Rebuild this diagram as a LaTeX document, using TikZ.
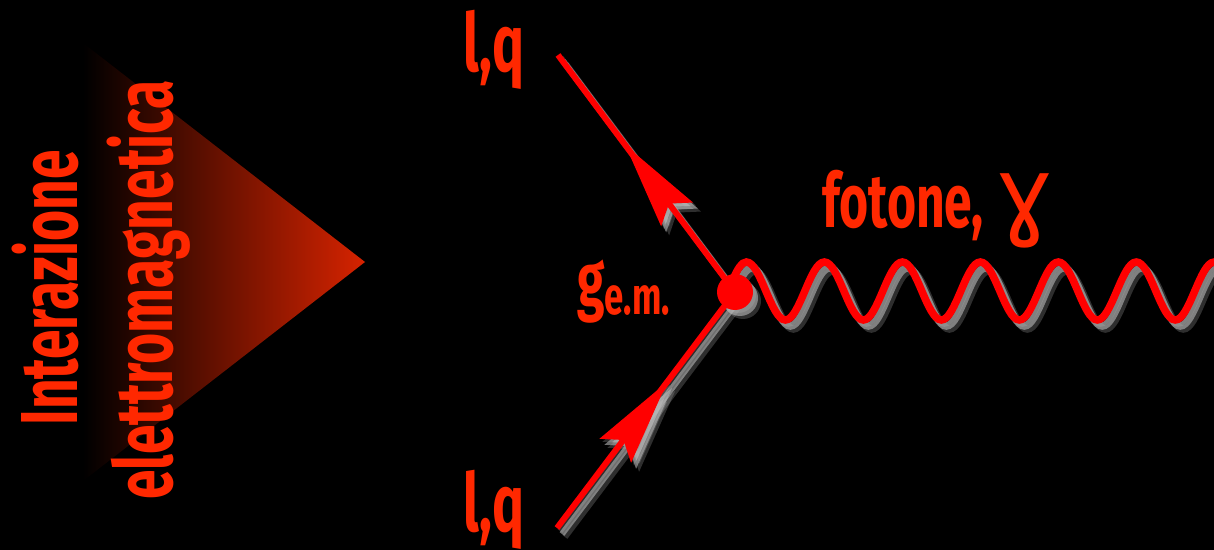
\documentclass[tikz,border=0pt]{standalone}
\usepackage{fontspec}
\newfontfamily\condfont{Fira Sans}[FakeStretch=0.66]
\newfontfamily\gamfont{DejaVu Sans}
\usetikzlibrary{arrows.meta,decorations.markings,decorations.pathmorphing}
\definecolor{emred}{RGB}{255,0,0}
\definecolor{emtext}{RGB}{255,40,0}
\definecolor{emtip}{RGB}{215,35,0}
\tikzset{
  lbl/.style = {text=emtext, inner sep=0pt, font=\condfont\bfseries\fontsize{46}{46}\selectfont},
  lblsmall/.style = {lbl, font=\condfont\bfseries\fontsize{43}{43}\selectfont},
  leg/.style = {line width=0.12cm},
  photon/.style = {line width=0.15cm, decorate, decoration={snake, segment length=1.56cm, amplitude=0.58cm}},
  outarrow/.style = {postaction={decorate, decoration={markings, mark=at position 0.62 with {\arrow{Stealth[length=1.72cm, width=0.78cm, inset=0.26cm]}}}}},
  glowa/.style = {color=white!72!black, opacity=0.6, transform canvas={shift={(5,6)}}},
  glowb/.style = {color=white!72!black, opacity=0.25, transform canvas={shift={(8,9)}}},
  glowc/.style = {color=white!72!black, opacity=0.25, transform canvas={shift={(3,3)}}},
  main/.style = {color=emred}
}
\begin{document}
\begin{tikzpicture}[x=0.02cm, y=-0.02cm]
  \fill[black] (0,0) rectangle (1214,550);
  \useasboundingbox (0,0) rectangle (1214,550);
  % shaded wedge and vertical title
  \shade[left color=black, middle color=emtip!35!black, right color=emtip] (83,43) -- (365,262) -- (83,481) -- cycle;
  \node[lbl, rotate=90, anchor=base] (inter) at (77,288) {Interazione};
  \node[lbl, rotate=90, anchor=base] (elettro) at (172,290) {elettromagnetica};
  % vertex and line ends
  \coordinate (v) at (735,292);
  \coordinate (phstart) at (722,291);
  \coordinate (lqtend) at (558,55);
  \coordinate (lqbend) at (557,528);
  \coordinate (phend) at (1260,291);
  \node[lbl, anchor=base] (lqt) at (494,72) {l,q};
  \node[lbl, anchor=base] (lqb) at (494,531) {l,q};
  \node[lblsmall, anchor=base west] (gem) at (577,307) {g\raisebox{-0.16cm}{\fontsize{30}{30}\selectfont e.m.}};
  \node[lblsmall, anchor=base west] (fot) at (822,228) {fotone, {\gamfont\mdseries\fontsize{56}{56}\selectfont ɣ}};
  % glow passes, then the red lines
  \foreach \s in {glowb,glowa,glowc,main}{
    \begin{scope}[\s]
      \draw[leg, outarrow] (v) -- (lqtend);
      \draw[leg, outarrow] (lqbend) -- (v);
      \draw[photon] (phstart) -- (phend);
      \fill (v) circle (0.36cm);
    \end{scope}
  }
\end{tikzpicture}
\end{document}
